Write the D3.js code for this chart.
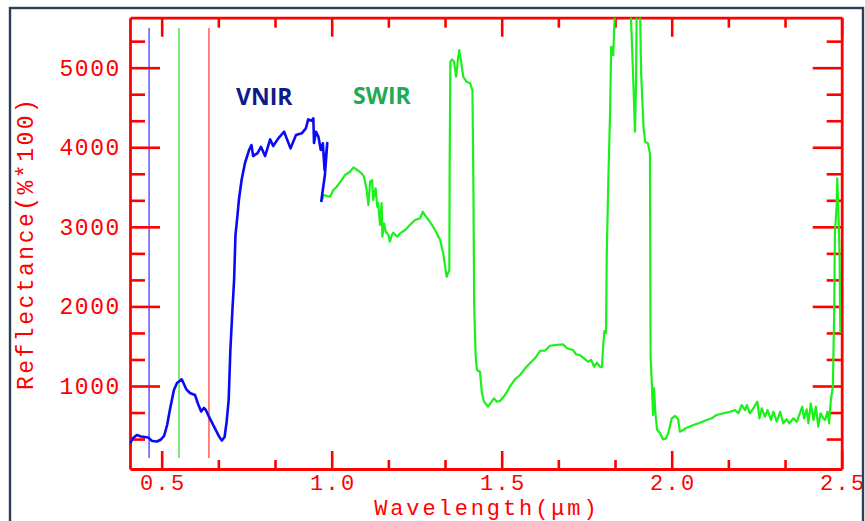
<!DOCTYPE html>
<html><head><meta charset="utf-8">
<script src="https://cdn.jsdelivr.net/npm/d3@7"></script>
<style>body{margin:0;background:#fff}svg{display:block}</style>
</head><body><svg id="c" width="865" height="521"></svg>
<script>
// ---- data ----
const vnirWavelength = [0.407,0.416,0.427,0.439,0.460,0.472,0.486,0.498,0.507,0.516,0.524,0.536,0.545,0.559,0.572,0.583,0.598,0.607,0.616,0.624,0.630,0.639,0.654,0.669,0.677,0.685,0.691,0.697,0.702,0.708,0.713,0.717,0.723,0.727,0.735,0.745,0.757,0.764,0.769,0.782,0.792,0.804,0.819,0.828,0.843,0.860,0.879,0.895,0.912,0.924,0.931,0.941,0.946,0.948,0.954,0.961,0.968,0.974,0.979,0.987,0.980,0.969];
const vnirReflectance = [280,347,384,366,353,309,303,328,372,510,698,950,1038,1084,962,912,887,774,680,724,698,614,489,363,315,359,548,824,1452,1955,2332,2897,3148,3337,3588,3802,3965,4028,3889,3927,4006,3889,4099,4015,4112,4195,3986,4153,4175,4237,4351,4333,4363,4053,4195,4132,3965,4049,3714,4053,3651,3312];
const swirWavelength = [0.970,0.977,0.986,0.995,1.005,1.015,1.029,1.039,1.054,1.064,
1.078,1.088,1.095,1.103,1.108,1.113,1.119,1.122,1.129,1.134,
1.137,1.142,1.147,1.149,1.154,1.159,1.167,1.171,1.177,1.181,
1.193,1.201,1.216,1.230,1.245,1.260,1.268,1.274,1.289,1.304,
1.319,1.328,1.333,1.338,1.346,1.347,1.349,1.354,1.360,1.366,
1.371,1.375,1.380,1.387,1.397,1.407,1.414,1.417,1.419,1.423,
1.427,1.436,1.442,1.448,1.460,1.477,1.486,1.495,1.510,1.524,
1.539,1.554,1.569,1.583,1.598,1.613,1.627,1.642,1.657,1.680,
1.692,1.710,1.719,1.730,1.742,1.754,1.763,1.772,1.780,1.789,
1.795,1.798,1.802,1.807,1.809,1.814,1.819,1.822,1.828,1.833,
1.848,1.872,1.879,1.882,1.888,1.892,1.895,1.897,1.901,1.907,
1.910,1.917,1.922,1.930,1.936,1.938,1.942,1.945,1.948,1.952,
1.957,1.966,1.974,1.983,1.990,2.000,2.010,2.019,2.024,2.034,
2.044,2.064,2.083,2.103,2.118,2.132,2.152,2.172,2.186,2.196,
2.206,2.216,2.221,2.230,2.240,2.252,2.258,2.265,2.274,2.282,
2.292,2.299,2.309,2.319,2.328,2.338,2.346,2.358,2.368,2.377,
2.384,2.389,2.397,2.402,2.409,2.417,2.424,2.431,2.438,2.446,
2.451,2.458,2.463,2.468,2.474,2.478,2.480,2.485,2.487,2.491,
2.494,2.496];
const swirReflectance = [3312,3400,3387,3378,3462,3504,3588,3651,3692,3748,
3705,3672,3629,3462,3274,3567,3588,3337,3484,3253,
3299,3023,3299,2876,3044,2938,2897,2813,2897,2926,
2876,2918,2960,3023,3085,3107,3190,3148,3064,2960,
2834,2667,2520,2373,2457,3755,5074,5104,5074,4886,
5096,5221,5096,4886,4823,4803,4719,3421,2039,1415,
1201,1180,908,803,740,845,803,812,887,991,
1084,1138,1222,1285,1348,1443,1443,1506,1515,1524,
1474,1452,1398,1389,1348,1305,1327,1242,1293,1242,
1235,1474,1691,1666,2646,3651,4467,5263,5158,5724,
6000,6000,5724,5431,4719,4195,4760,5724,6000,5724,
4949,4258,4069,4049,3923,1368,991,636,975,661,
447,410,330,340,410,594,623,582,426,447,
476,510,539,573,594,636,657,677,698,657,
761,698,761,657,720,803,594,720,614,698,
573,677,551,677,531,582,531,594,551,657,
740,594,707,531,783,573,740,489,657,594,
573,677,531,824,991,1955,2922,3253,3609,3085,
2583,1666];
const bandWavelengths = [0.463, 0.551, 0.639];   // blue, green, red band markers
const bandRange = [95, 5498];
const xTickValues = [0.5, 1.0, 1.5, 2.0, 2.5];
const yTickValues = [1000, 2000, 3000, 4000, 5000];
const xDomain = [0.4068, 2.5];
const yDomain = [-43, 5628];
const xTitle = "Wavelength(\u03bcm)";
const yTitle = "Reflectance(%*100)";
const regionLabels = ["VNIR", "SWIR"];

// ---- layout ----
const svg = d3.select("#c");
const L = 130, R = 841.7, T = 17.7, B = 469;
const x = d3.scaleLinear().domain(xDomain).range([L, R]);
const y = d3.scaleLinear().domain(yDomain).range([B, T]);
const RED = "#ff0000";
const MONO = "'Liberation Mono', 'DejaVu Sans Mono', monospace";

const defs = svg.append("defs");
defs.append("clipPath").attr("id", "frameClip").append("rect")
  .attr("x", 11).attr("y", 9).attr("width", 851).attr("height", 520);
defs.append("clipPath").attr("id", "plotClip").append("rect")
  .attr("x", L).attr("y", T).attr("width", R - L).attr("height", B - T);

const root = svg.append("g").attr("clip-path", "url(#frameClip)");

const xMinor = d3.range(1, 13).map(k => 0.5 + k / 6).filter(v => v < 2.5 && Math.abs(v * 2 - Math.round(v * 2)) > 1e-6);
const yMinor = d3.range(1, 17).filter(k => k % 3 !== 0).map(k => k * 1000 / 3);

function style(sel, withText, fs, ls) {
  sel.selectAll("path.domain").attr("stroke", RED).attr("stroke-width", 2.8);
  sel.selectAll(".tick line").attr("stroke", RED).attr("stroke-width", 2.6);
  sel.selectAll(".tick text").attr("fill", RED).attr("font-family", MONO)
    .attr("font-size", fs || 23).attr("letter-spacing", ls || 1.6);
  if (!withText) sel.selectAll(".tick text").remove();
}

// band marker lines
const bandColors = ["#6464ff", "#5ee65e", "#ff6464"];
root.append("g").selectAll("line").data(bandWavelengths).join("line")
  .attr("x1", d => x(d)).attr("x2", d => x(d))
  .attr("y1", y(bandRange[0])).attr("y2", y(bandRange[1]))
  .attr("stroke", (d, i) => bandColors[i]).attr("stroke-width", 1.6);

// axes
const gl = root.append("g").attr("transform", `translate(${L},0)`)
  .call(d3.axisLeft(y).tickValues(yTickValues).tickSize(-30).tickSizeOuter(0).tickPadding(9).tickFormat(d3.format("d")));
style(gl, true);
const glm = root.append("g").attr("transform", `translate(${L},0)`)
  .call(d3.axisLeft(y).tickValues(yMinor).tickSize(-15).tickSizeOuter(0).tickFormat(""));
glm.select("path.domain").remove(); style(glm, false);

const gr = root.append("g").attr("transform", `translate(${R},0)`)
  .call(d3.axisRight(y).tickValues(yTickValues).tickSize(-29).tickSizeOuter(0).tickFormat(""));
style(gr, false);
const grm = root.append("g").attr("transform", `translate(${R},0)`)
  .call(d3.axisRight(y).tickValues(yMinor).tickSize(-15).tickSizeOuter(0).tickFormat(""));
grm.select("path.domain").remove(); style(grm, false);

const gb = root.append("g").attr("transform", `translate(0,${B})`)
  .call(d3.axisBottom(x).tickValues(xTickValues).tickSize(-18).tickSizeOuter(0).tickPadding(5).tickFormat(d3.format(".1f")));
style(gb, true, 22, 2.2);
gb.selectAll(".tick text").attr("dx", "1");
const gbm = root.append("g").attr("transform", `translate(0,${B})`)
  .call(d3.axisBottom(x).tickValues(xMinor).tickSize(-9).tickSizeOuter(0).tickFormat(""));
gbm.select("path.domain").remove(); style(gbm, false);

const gt = root.append("g").attr("transform", `translate(0,${T})`)
  .call(d3.axisTop(x).tickValues(xTickValues).tickSize(-19).tickSizeOuter(0).tickFormat(""));
style(gt, false);
const gtm = root.append("g").attr("transform", `translate(0,${T})`)
  .call(d3.axisTop(x).tickValues(xMinor).tickSize(-10).tickSizeOuter(0).tickFormat(""));
gtm.select("path.domain").remove(); style(gtm, false);

// axis titles
root.append("text").attr("x", (L + R) / 2 + 1).attr("y", 515)
  .attr("text-anchor", "middle").attr("fill", RED).attr("font-family", MONO)
  .attr("font-size", 22).attr("letter-spacing", 2.9).text(xTitle);
root.append("text").attr("transform", `translate(33,${(T + B) / 2}) rotate(-90)`)
  .attr("text-anchor", "middle").attr("fill", RED).attr("font-family", MONO)
  .attr("font-size", 23).attr("letter-spacing", 2.5).text(yTitle);

// spectra
const line = d3.line().x(d => x(d[0])).y(d => y(d[1]));
const plot = root.append("g").attr("clip-path", "url(#plotClip)");
plot.append("path").datum(d3.zip(swirWavelength, swirReflectance))
  .attr("d", line).attr("fill", "none").attr("stroke", "#1bf01b")
  .attr("stroke-width", 2.2).attr("stroke-linejoin", "round");
plot.append("path").datum(d3.zip(vnirWavelength, vnirReflectance))
  .attr("d", line).attr("fill", "none").attr("stroke", "#0a0af5")
  .attr("stroke-width", 2.6).attr("stroke-linejoin", "round");

// region labels
root.append("text").attr("x", 236).attr("y", 105).attr("fill", "#0d1a8a")
  .attr("font-family", "'Open Sans', sans-serif").attr("font-weight", 700)
  .attr("font-size", 23).text(regionLabels[0]);
root.append("text").attr("x", 353).attr("y", 104).attr("fill", "#1fab55")
  .attr("font-family", "'Open Sans', sans-serif").attr("font-weight", 700)
  .attr("font-size", 23).text(regionLabels[1]);

// outer frame
svg.append("rect").attr("x", 10).attr("y", 8).attr("width", 853).attr("height", 540)
  .attr("fill", "none").attr("stroke", "#2c4058").attr("stroke-width", 2.4);
</script></body></html>
